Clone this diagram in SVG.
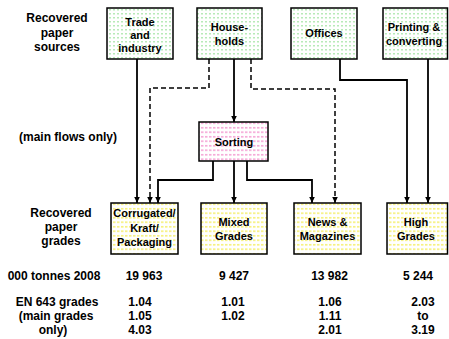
<svg xmlns="http://www.w3.org/2000/svg" width="449" height="339" viewBox="0 0 449 339">
<defs>
<pattern id="pg" width="4" height="4" patternUnits="userSpaceOnUse"><rect width="4" height="4" fill="#ffffff"/><rect x="1" y="1" width="2" height="1.5" fill="#b8eab8"/></pattern>
<pattern id="pp" width="4" height="4.5" patternUnits="userSpaceOnUse"><rect width="4" height="4.5" fill="#ffffff"/><rect x="1" y="1" width="2.5" height="1.5" fill="#f4a0d4"/></pattern>
<pattern id="py" width="4" height="4.5" patternUnits="userSpaceOnUse"><rect width="4" height="4.5" fill="#ffffff"/><rect x="1" y="1" width="2.5" height="1.5" fill="#f6f070"/></pattern>
<marker id="ah" markerUnits="userSpaceOnUse" markerWidth="6" markerHeight="6" refX="6" refY="3" orient="auto"><path d="M0,0.2 L6,3 L0,5.8 z" fill="#000"/></marker>
</defs>
<style>
text{font-family:"Liberation Sans",Arial,sans-serif;font-weight:bold;fill:#000;text-anchor:middle}
.l{font-size:12px}
.n{font-size:11px}
.box{stroke:#000;stroke-width:1.5}
.c{fill:none;stroke:#000;stroke-width:1.8;marker-end:url(#ah)}
.d{stroke-width:1.5;stroke-dasharray:5,3}
</style>

<g id="labels">
<text class="l" x="57" y="22">Recovered</text>
<text class="l" x="57" y="36.5">paper</text>
<text class="l" x="57" y="51">sources</text>
<text class="l" x="68" y="141">(main flows only)</text>
<text class="l" x="61" y="217">Recovered</text>
<text class="l" x="61" y="231">paper</text>
<text class="l" x="61" y="245">grades</text>
<text class="l" x="54" y="280">000 tonnes 2008</text>
<text class="l" x="57" y="306">EN 643 grades</text>
<text class="l" x="56" y="320">(main grades</text>
<text class="l" x="53" y="334">only)</text>
</g>

<g id="connectors">
<path class="c" d="M137,59 V203"/>
<path class="c d" d="M209,59 V88 H150 V203"/>
<path class="c" d="M234,59 V122"/>
<path class="c d" d="M251,59 V89 H335 V203"/>
<path class="c" d="M340,59 V80 H407 V203"/>
<path class="c" d="M428,59 V203"/>
<path class="c" d="M213,161 V180 H158 V203"/>
<path class="c" d="M234,161 V203"/>
<path class="c" d="M247,161 V180 H312 V203"/>
</g>

<g id="trade">
<rect class="box" x="107" y="8" width="66" height="51" fill="url(#pg)"/>
<text class="n" x="140" y="25.5">Trade</text>
<text class="n" x="140" y="38.5">and</text>
<text class="n" x="140" y="51.5">industry</text>
</g>
<g id="households">
<rect class="box" x="197" y="8" width="65" height="51" fill="url(#pg)"/>
<text class="n" x="229.5" y="31">House-</text>
<text class="n" x="229.5" y="45">holds</text>
</g>
<g id="offices">
<rect class="box" x="291" y="8" width="66" height="51" fill="url(#pg)"/>
<text class="n" x="324" y="37">Offices</text>
</g>
<g id="printing">
<rect class="box" x="383" y="8" width="64.5" height="51" fill="url(#pg)"/>
<text class="n" x="414" y="31">Printing &amp;</text>
<text class="n" x="414" y="45">converting</text>
</g>
<g id="sorting">
<rect class="box" x="199" y="122" width="69" height="39" fill="url(#pp)"/>
<text class="n" x="234" y="146">Sorting</text>
</g>
<g id="corrugated">
<rect class="box" x="111" y="203" width="67" height="51" fill="url(#py)"/>
<text class="n" x="144.5" y="217">Corrugated/</text>
<text class="n" x="144.5" y="231.5">Kraft/</text>
<text class="n" x="144.5" y="246">Packaging</text>
</g>
<g id="mixed">
<rect class="box" x="201" y="203" width="66" height="51" fill="url(#py)"/>
<text class="n" x="234" y="226">Mixed</text>
<text class="n" x="234" y="240">Grades</text>
</g>
<g id="news">
<rect class="box" x="294" y="203" width="67" height="51" fill="url(#py)"/>
<text class="n" x="327.5" y="226">News &amp;</text>
<text class="n" x="327.5" y="240">Magazines</text>
</g>
<g id="high">
<rect class="box" x="387" y="203" width="60.5" height="51" fill="url(#py)"/>
<text class="n" x="416" y="226">High</text>
<text class="n" x="416" y="240">Grades</text>
</g>

<g id="values">
<text class="l" x="144" y="280">19 963</text>
<text class="l" x="140" y="306">1.04</text>
<text class="l" x="140" y="320">1.05</text>
<text class="l" x="140" y="334">4.03</text>
<text class="l" x="234" y="280">9 427</text>
<text class="l" x="233" y="306">1.01</text>
<text class="l" x="233" y="320">1.02</text>
<text class="l" x="329.5" y="280">13 982</text>
<text class="l" x="330" y="306">1.06</text>
<text class="l" x="330" y="320">1.11</text>
<text class="l" x="330" y="334">2.01</text>
<text class="l" x="418" y="280">5 244</text>
<text class="l" x="423" y="306">2.03</text>
<text class="l" x="423" y="320">to</text>
<text class="l" x="423" y="334">3.19</text>
</g>
</svg>
